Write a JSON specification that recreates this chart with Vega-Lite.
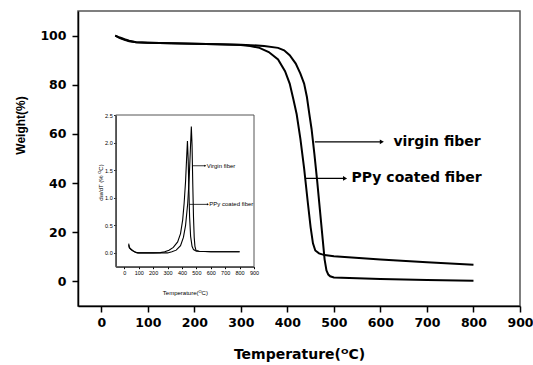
{
  "$schema": "https://vega.github.io/schema/vega-lite/v6.json",
  "width": 442,
  "height": 295,
  "autosize": {"type": "none"},
  "padding": {"left": 78, "top": 11, "right": 13, "bottom": 59},
  "background": "white",
  "config": {"view": {"stroke": "#555555", "strokeWidth": 1.5}, "axis": {"grid": false}},
  "datasets": {
    "tga": [
      {"series": "virgin fiber", "temp": 30, "weight": 100},
      {"series": "virgin fiber", "temp": 40, "weight": 99.0},
      {"series": "virgin fiber", "temp": 50, "weight": 98.3},
      {"series": "virgin fiber", "temp": 60, "weight": 97.7},
      {"series": "virgin fiber", "temp": 75, "weight": 97.3},
      {"series": "virgin fiber", "temp": 100, "weight": 97.1},
      {"series": "virgin fiber", "temp": 150, "weight": 96.9},
      {"series": "virgin fiber", "temp": 200, "weight": 96.7},
      {"series": "virgin fiber", "temp": 250, "weight": 96.5},
      {"series": "virgin fiber", "temp": 300, "weight": 96.3},
      {"series": "virgin fiber", "temp": 350, "weight": 95.8},
      {"series": "virgin fiber", "temp": 380, "weight": 95.0},
      {"series": "virgin fiber", "temp": 393, "weight": 94.0},
      {"series": "virgin fiber", "temp": 405, "weight": 92.0},
      {"series": "virgin fiber", "temp": 418, "weight": 88.6},
      {"series": "virgin fiber", "temp": 428, "weight": 84.5},
      {"series": "virgin fiber", "temp": 436, "weight": 80.5},
      {"series": "virgin fiber", "temp": 442, "weight": 75.0},
      {"series": "virgin fiber", "temp": 447, "weight": 68.4},
      {"series": "virgin fiber", "temp": 452, "weight": 62.0},
      {"series": "virgin fiber", "temp": 458, "weight": 52.0},
      {"series": "virgin fiber", "temp": 464, "weight": 41.0},
      {"series": "virgin fiber", "temp": 470, "weight": 29.0},
      {"series": "virgin fiber", "temp": 476, "weight": 17.0},
      {"series": "virgin fiber", "temp": 480, "weight": 9.0},
      {"series": "virgin fiber", "temp": 484, "weight": 4.5},
      {"series": "virgin fiber", "temp": 488, "weight": 2.8},
      {"series": "virgin fiber", "temp": 492, "weight": 2.1},
      {"series": "virgin fiber", "temp": 500, "weight": 1.6},
      {"series": "virgin fiber", "temp": 600, "weight": 1.0},
      {"series": "virgin fiber", "temp": 700, "weight": 0.6},
      {"series": "virgin fiber", "temp": 800, "weight": 0.3},
      {"series": "PPy coated fiber", "temp": 30, "weight": 100},
      {"series": "PPy coated fiber", "temp": 40, "weight": 99.2},
      {"series": "PPy coated fiber", "temp": 50, "weight": 98.5},
      {"series": "PPy coated fiber", "temp": 60, "weight": 97.9},
      {"series": "PPy coated fiber", "temp": 75, "weight": 97.3},
      {"series": "PPy coated fiber", "temp": 100, "weight": 97.1},
      {"series": "PPy coated fiber", "temp": 150, "weight": 96.9},
      {"series": "PPy coated fiber", "temp": 200, "weight": 96.7},
      {"series": "PPy coated fiber", "temp": 250, "weight": 96.5},
      {"series": "PPy coated fiber", "temp": 300, "weight": 96.2},
      {"series": "PPy coated fiber", "temp": 320, "weight": 95.8},
      {"series": "PPy coated fiber", "temp": 340, "weight": 95.0},
      {"series": "PPy coated fiber", "temp": 360, "weight": 93.3},
      {"series": "PPy coated fiber", "temp": 380, "weight": 90.3},
      {"series": "PPy coated fiber", "temp": 395, "weight": 85.5},
      {"series": "PPy coated fiber", "temp": 405, "weight": 80.5},
      {"series": "PPy coated fiber", "temp": 413, "weight": 74.0},
      {"series": "PPy coated fiber", "temp": 420, "weight": 68.0},
      {"series": "PPy coated fiber", "temp": 428, "weight": 58.0},
      {"series": "PPy coated fiber", "temp": 436, "weight": 46.0},
      {"series": "PPy coated fiber", "temp": 444, "weight": 32.0},
      {"series": "PPy coated fiber", "temp": 450, "weight": 22.0},
      {"series": "PPy coated fiber", "temp": 455, "weight": 15.5},
      {"series": "PPy coated fiber", "temp": 460, "weight": 12.6},
      {"series": "PPy coated fiber", "temp": 468, "weight": 11.4},
      {"series": "PPy coated fiber", "temp": 480, "weight": 10.7},
      {"series": "PPy coated fiber", "temp": 500, "weight": 10.2},
      {"series": "PPy coated fiber", "temp": 600, "weight": 8.9},
      {"series": "PPy coated fiber", "temp": 700, "weight": 7.8},
      {"series": "PPy coated fiber", "temp": 800, "weight": 6.8}
    ],
    "tga_notes": [
      {"label": "virgin fiber", "temp": 459, "temp_end": 603, "weight": 56.8, "label_temp": 628},
      {"label": "PPy coated fiber", "temp": 438, "temp_end": 524, "weight": 41.9, "label_temp": 538}
    ],
    "dtg": [
      {"series": "virgin fiber", "temp": 30, "dwdt": 0.14},
      {"series": "virgin fiber", "temp": 35, "dwdt": 0.09},
      {"series": "virgin fiber", "temp": 50, "dwdt": 0.05},
      {"series": "virgin fiber", "temp": 70, "dwdt": 0.02},
      {"series": "virgin fiber", "temp": 90, "dwdt": 0.0},
      {"series": "virgin fiber", "temp": 200, "dwdt": 0.0},
      {"series": "virgin fiber", "temp": 300, "dwdt": 0.0},
      {"series": "virgin fiber", "temp": 330, "dwdt": 0.02},
      {"series": "virgin fiber", "temp": 360, "dwdt": 0.05},
      {"series": "virgin fiber", "temp": 390, "dwdt": 0.13},
      {"series": "virgin fiber", "temp": 410, "dwdt": 0.28},
      {"series": "virgin fiber", "temp": 425, "dwdt": 0.5},
      {"series": "virgin fiber", "temp": 440, "dwdt": 0.9},
      {"series": "virgin fiber", "temp": 450, "dwdt": 1.35},
      {"series": "virgin fiber", "temp": 458, "dwdt": 1.85},
      {"series": "virgin fiber", "temp": 465, "dwdt": 2.29},
      {"series": "virgin fiber", "temp": 470, "dwdt": 1.95},
      {"series": "virgin fiber", "temp": 475, "dwdt": 1.25},
      {"series": "virgin fiber", "temp": 480, "dwdt": 0.65},
      {"series": "virgin fiber", "temp": 485, "dwdt": 0.28},
      {"series": "virgin fiber", "temp": 490, "dwdt": 0.12},
      {"series": "virgin fiber", "temp": 497, "dwdt": 0.05},
      {"series": "virgin fiber", "temp": 520, "dwdt": 0.03},
      {"series": "virgin fiber", "temp": 600, "dwdt": 0.02},
      {"series": "virgin fiber", "temp": 700, "dwdt": 0.02},
      {"series": "virgin fiber", "temp": 800, "dwdt": 0.02},
      {"series": "PPy coated fiber", "temp": 30, "dwdt": 0.17},
      {"series": "PPy coated fiber", "temp": 35, "dwdt": 0.1},
      {"series": "PPy coated fiber", "temp": 45, "dwdt": 0.07},
      {"series": "PPy coated fiber", "temp": 60, "dwdt": 0.04},
      {"series": "PPy coated fiber", "temp": 80, "dwdt": 0.01},
      {"series": "PPy coated fiber", "temp": 100, "dwdt": 0.0},
      {"series": "PPy coated fiber", "temp": 200, "dwdt": 0.0},
      {"series": "PPy coated fiber", "temp": 250, "dwdt": 0.005},
      {"series": "PPy coated fiber", "temp": 280, "dwdt": 0.02},
      {"series": "PPy coated fiber", "temp": 310, "dwdt": 0.05},
      {"series": "PPy coated fiber", "temp": 340, "dwdt": 0.1},
      {"series": "PPy coated fiber", "temp": 370, "dwdt": 0.2},
      {"series": "PPy coated fiber", "temp": 390, "dwdt": 0.35},
      {"series": "PPy coated fiber", "temp": 405, "dwdt": 0.6},
      {"series": "PPy coated fiber", "temp": 415, "dwdt": 0.9},
      {"series": "PPy coated fiber", "temp": 425, "dwdt": 1.3},
      {"series": "PPy coated fiber", "temp": 432, "dwdt": 1.7},
      {"series": "PPy coated fiber", "temp": 438, "dwdt": 2.03},
      {"series": "PPy coated fiber", "temp": 443, "dwdt": 1.7},
      {"series": "PPy coated fiber", "temp": 448, "dwdt": 1.15},
      {"series": "PPy coated fiber", "temp": 453, "dwdt": 0.65},
      {"series": "PPy coated fiber", "temp": 460, "dwdt": 0.3},
      {"series": "PPy coated fiber", "temp": 470, "dwdt": 0.12},
      {"series": "PPy coated fiber", "temp": 480, "dwdt": 0.06},
      {"series": "PPy coated fiber", "temp": 500, "dwdt": 0.03},
      {"series": "PPy coated fiber", "temp": 600, "dwdt": 0.02},
      {"series": "PPy coated fiber", "temp": 700, "dwdt": 0.02},
      {"series": "PPy coated fiber", "temp": 800, "dwdt": 0.02}
    ],
    "dtg_notes": [
      {"label": "Virgin fiber", "temp": 474, "temp_end": 562, "dwdt": 1.58, "label_temp": 572},
      {"label": "PPy coated fiber", "temp": 451, "temp_end": 580, "dwdt": 0.88, "label_temp": 590}
    ]
  },
  "layer": [
    {
      "layer": [
        {
          "data": {"name": "tga"},
          "mark": {"type": "line", "color": "black", "strokeWidth": 2},
          "encoding": {
            "x": {
              "field": "temp", "type": "quantitative", "title": "Temperature(ᴼC)",
              "scale": {"domain": [-50, 900], "nice": false, "zero": false},
              "axis": {
                "orient": "bottom", "values": [0, 100, 200, 300, 400, 500, 600, 700, 800, 900],
                "labelFont": "DejaVu Sans", "labelFontWeight": "bold", "labelFontSize": 12.5, "labelColor": "black",
                "labelPadding": 4, "labelFlush": false, "labelOverlap": false, "labelBound": false,
                "tickSize": 6, "tickColor": "black", "tickWidth": 1.5,
                "domainColor": "black", "domainWidth": 1.5,
                "titleFont": "DejaVu Sans", "titleFontWeight": "bold", "titleFontSize": 14, "titleColor": "black",
                "titleBaseline": "alphabetic", "titleY": 52
              }
            },
            "y": {
              "field": "weight", "type": "quantitative", "title": "Weight(%)",
              "scale": {"domain": [-10, 110], "nice": false, "zero": false},
              "axis": {
                "orient": "left", "values": [0, 20, 40, 60, 80, 100],
                "labelFont": "DejaVu Sans", "labelFontWeight": "bold", "labelFontSize": 12.5, "labelColor": "black",
                "labelPadding": 6, "labelFlush": false, "labelOverlap": false,
                "tickSize": 6, "tickColor": "black", "tickWidth": 1.5,
                "domainColor": "black", "domainWidth": 1.5,
                "titleFont": "Liberation Sans", "titleFontWeight": "bold", "titleFontSize": 12, "titleColor": "black",
                "titleBaseline": "middle", "titleX": -58, "titleY": 114
              }
            },
            "detail": {"field": "series"}
          }
        },
        {
          "data": {"name": "tga_notes"},
          "mark": {"type": "rule", "color": "black", "strokeWidth": 1.2},
          "encoding": {
            "x": {"field": "temp", "type": "quantitative", "title": "Temperature(ᴼC)"},
            "x2": {"field": "temp_end"},
            "y": {"field": "weight", "type": "quantitative", "title": "Weight(%)"}
          }
        },
        {
          "data": {"name": "tga_notes"},
          "mark": {"type": "point", "shape": "triangle-right", "filled": true, "color": "black", "size": 22, "opacity": 1},
          "encoding": {
            "x": {"field": "temp_end", "type": "quantitative", "title": "Temperature(ᴼC)"},
            "y": {"field": "weight", "type": "quantitative", "title": "Weight(%)"}
          }
        },
        {
          "data": {"name": "tga_notes"},
          "mark": {"type": "text", "align": "left", "baseline": "middle", "font": "DejaVu Sans", "fontWeight": "bold", "fontSize": 14, "color": "black"},
          "encoding": {
            "x": {"field": "label_temp", "type": "quantitative", "title": "Temperature(ᴼC)"},
            "y": {"field": "weight", "type": "quantitative", "title": "Weight(%)"},
            "text": {"field": "label"}
          }
        }
      ]
    },
    {
      "layer": [
        {
          "data": {"values": [{}]},
          "mark": {"type": "rect", "fillOpacity": 0, "stroke": "#555555", "strokeWidth": 1},
          "encoding": {
            "x": {"datum": -60, "type": "quantitative"},
            "x2": {"datum": 900},
            "y": {"datum": -0.25, "type": "quantitative"},
            "y2": {"datum": 2.5}
          }
        },
        {
          "data": {"name": "dtg"},
          "mark": {"type": "line", "color": "black", "strokeWidth": 1.1},
          "encoding": {
            "x": {
              "field": "temp", "type": "quantitative", "title": "Temperature(ᴼC)",
              "scale": {"domain": [-60, 900], "range": [37.7, 176], "nice": false, "zero": false},
              "axis": {
                "orient": "bottom", "offset": -39.3, "values": [0, 100, 200, 300, 400, 500, 600, 700, 800, 900],
                "labelFont": "Liberation Sans", "labelFontSize": 5.5, "labelColor": "black",
                "labelPadding": 1.5, "labelFlush": false, "labelOverlap": false, "labelBound": false,
                "tickSize": 2, "tickColor": "black", "tickWidth": 1,
                "domainColor": "black", "domainWidth": 1,
                "titleFont": "Liberation Sans", "titleFontWeight": "normal", "titleFontSize": 6, "titleColor": "black",
                "titleBaseline": "alphabetic", "titleY": 28
              }
            },
            "y": {
              "field": "dwdt", "type": "quantitative", "title": "dw/dT  (% ᴼC)",
              "scale": {"domain": [-0.25, 2.5], "range": [255.7, 104], "nice": false, "zero": false},
              "axis": {
                "orient": "left", "offset": -37.7, "values": [0, 0.5, 1, 1.5, 2, 2.5], "format": ".1f",
                "labelFont": "Liberation Sans", "labelFontSize": 5.5, "labelColor": "black",
                "labelPadding": 1.5, "labelFlush": false, "labelOverlap": false,
                "tickSize": 2, "tickColor": "black", "tickWidth": 1,
                "domainColor": "black", "domainWidth": 1,
                "titleFont": "Liberation Sans", "titleFontWeight": "normal", "titleFontSize": 6, "titleColor": "black",
                "titleBaseline": "middle", "titleX": -15.7, "titleY": 171
              }
            },
            "detail": {"field": "series"}
          }
        },
        {
          "data": {"name": "dtg_notes"},
          "mark": {"type": "rule", "color": "black", "strokeWidth": 0.8},
          "encoding": {
            "x": {"field": "temp", "type": "quantitative", "title": "Temperature(ᴼC)"},
            "x2": {"field": "temp_end"},
            "y": {"field": "dwdt", "type": "quantitative", "title": "dw/dT  (% ᴼC)"}
          }
        },
        {
          "data": {"name": "dtg_notes"},
          "mark": {"type": "point", "shape": "triangle-right", "filled": true, "color": "black", "size": 5, "opacity": 1},
          "encoding": {
            "x": {"field": "temp_end", "type": "quantitative", "title": "Temperature(ᴼC)"},
            "y": {"field": "dwdt", "type": "quantitative", "title": "dw/dT  (% ᴼC)"}
          }
        },
        {
          "data": {"name": "dtg_notes"},
          "mark": {"type": "text", "align": "left", "baseline": "middle", "font": "Liberation Sans", "fontSize": 6, "color": "black"},
          "encoding": {
            "x": {"field": "label_temp", "type": "quantitative", "title": "Temperature(ᴼC)"},
            "y": {"field": "dwdt", "type": "quantitative", "title": "dw/dT  (% ᴼC)"},
            "text": {"field": "label"}
          }
        }
      ]
    }
  ],
  "resolve": {"scale": {"x": "independent", "y": "independent"}}
}
